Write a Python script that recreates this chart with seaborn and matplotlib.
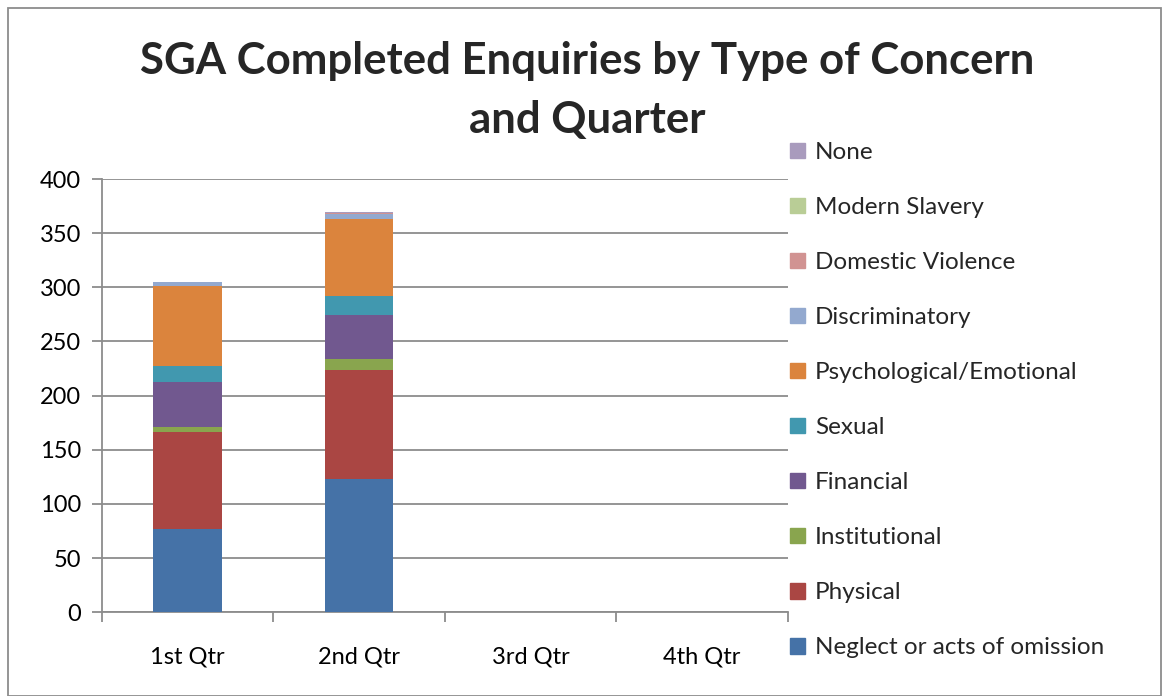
import numpy as np
import pandas as pd
import matplotlib
matplotlib.use("Agg")
import matplotlib.pyplot as plt
from matplotlib.patches import Patch, Rectangle
import seaborn as sns

quarters = ["1st Qtr", "2nd Qtr", "3rd Qtr", "4th Qtr"]
concerns = ["Neglect or acts of omission", "Physical", "Institutional", "Financial",
            "Sexual", "Psychological/Emotional", "Discriminatory",
            "Domestic Violence", "Modern Slavery", "None"]
neglect = [77, 123, 0, 0]
physical = [89, 101, 0, 0]
institutional = [5, 10, 0, 0]
financial = [42, 40, 0, 0]
sexual = [14, 18, 0, 0]
psychological = [74, 71, 0, 0]
discriminatory = [4, 5, 0, 0]
domestic = [0, 1, 0, 0]
modern_slavery = [0, 0, 0, 0]
none = [0, 1, 0, 0]
colors = ["#4572A7", "#AA4643", "#89A54E", "#71588F", "#4198AF",
          "#DB843D", "#93A9CF", "#D19392", "#B9CD96", "#A99BBD"]

series = [neglect, physical, institutional, financial, sexual, psychological,
          discriminatory, domestic, modern_slavery, none]
df = pd.DataFrame(dict(zip(concerns, series)), index=quarters)
cum = df.cumsum(axis=1)

sns.set_style("white")
plt.rcParams["font.family"] = ["Lato", "DejaVu Sans"]

fig = plt.figure(figsize=(11.62, 6.96), dpi=100)
ax = fig.add_axes([0.0878, 0.1203, 0.59, 0.6225])

# draw cumulative totals from the top series down so each layer shows
for name, col in reversed(list(zip(concerns, colors))):
    d = pd.DataFrame({"quarter": quarters, "value": cum[name].values})
    sns.barplot(data=d, x="quarter", y="value", color=col, width=0.4,
                saturation=1, linewidth=0, edgecolor="none", ax=ax, zorder=3)

ax.set_ylim(0, 400)
ax.set_xlim(-0.5, 3.5)
ax.set_yticks(np.arange(0, 401, 50))
ax.set_xlabel("")
ax.set_ylabel("")
ax.yaxis.grid(True, color="#8c8c8c", linewidth=1.3, zorder=0)
ax.set_axisbelow(True)
for s in ["top", "right"]:
    ax.spines[s].set_visible(False)
for s in ["left", "bottom"]:
    ax.spines[s].set_color("#8c8c8c")
    ax.spines[s].set_linewidth(1.3)
ax.tick_params(axis="y", left=True, length=7, width=1.3, color="#8c8c8c",
               labelsize=17, pad=8, labelcolor="black")
ax.tick_params(axis="x", bottom=False, labelsize=17, pad=21, labelcolor="black")
ax.set_xticks(np.arange(-0.5, 3.6, 1), minor=True)
ax.tick_params(axis="x", which="minor", bottom=True, length=7, width=1.3,
               color="#8c8c8c")

fig.text(0.5056, 0.870, "SGA Completed Enquiries by Type of Concern\nand Quarter",
         ha="center", va="center", fontsize=31.5, fontweight="bold",
         linespacing=1.55)

handles = [Patch(facecolor=c, edgecolor=c) for c in colors]
fig.legend(handles[::-1], concerns[::-1], loc="upper left",
           bbox_to_anchor=(0.6715, 0.810), frameon=False, fontsize=17.5,
           handlelength=0.62, handleheight=0.62, handletextpad=0.4,
           labelspacing=1.4, borderaxespad=0)

fig.patches.append(Rectangle((0.007, 0.0), 0.992, 0.989, transform=fig.transFigure,
                             fill=False, edgecolor="#8c8c8c", linewidth=1.3))

fig.savefig("out.png", dpi=100)
